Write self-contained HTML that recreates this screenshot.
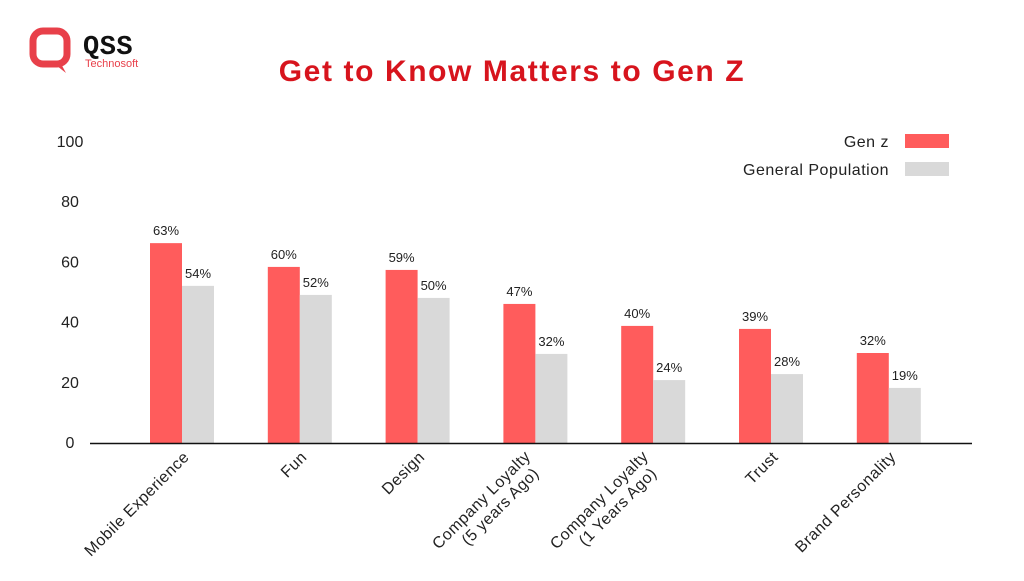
<!DOCTYPE html>
<html><head><meta charset="utf-8"><style>
body{margin:0;width:1024px;height:576px;background:#fff;overflow:hidden;font-family:"Liberation Sans",sans-serif}
</style></head><body>
<svg width="1024" height="576" viewBox="0 0 1024 576">
<g>
<rect x="33" y="31" width="34" height="33" rx="10" fill="none" stroke="#e8404a" stroke-width="7"/>
<path d="M52 62 L66 73 L60 62 Z" fill="#e8404a"/>
<text x="83" y="54" font-size="27" font-weight="bold" font-family="Liberation Mono, monospace" fill="#111" letter-spacing="0.5">QSS</text>
<text x="85" y="67" font-size="11" fill="#e8404a">Technosoft</text>
</g>
<text x="512" y="81" text-anchor="middle" font-size="30" font-weight="bold" fill="#d7141d" letter-spacing="1.6">Get to Know Matters to Gen Z</text>
<g>
<text x="889" y="147" text-anchor="end" font-size="16" fill="#222" letter-spacing="0.5">Gen z</text>
<rect x="905" y="134" width="44" height="14" fill="#ff5c5c"/>
<text x="889" y="175" text-anchor="end" font-size="16" fill="#222" letter-spacing="0.5">General Population</text>
<rect x="905" y="162" width="44" height="14" fill="#d9d9d9"/>
</g>
<g id="plot"></g>
<line x1="90" y1="443.5" x2="972" y2="443.5" stroke="#111" stroke-width="1.5"/>
</svg>
<script>
const categories=["Mobile Experience","Fun","Design","Company Loyalty\n(5 years Ago)","Company Loyalty\n(1 Years Ago)","Trust","Brand Personality"];
const genZ=[66.4,58.5,57.5,46.2,38.9,37.9,29.9];
const general=[52.2,49.2,48.2,29.6,20.9,22.9,18.3];
const genZLabels=["63%","60%","59%","47%","40%","39%","32%"];
const generalLabels=["54%","52%","50%","32%","24%","28%","19%"];
const ticks=[0,20,40,60,80,100];
const NS="http://www.w3.org/2000/svg";
const g=document.getElementById('plot');
const y=v=>443-v*3.01;
const xc=i=>182+i*117.8;
function mk(t,a){const e=document.createElementNS(NS,t);for(const k in a)e.setAttribute(k,a[k]);g.appendChild(e);return e;}
ticks.forEach(t=>{
 const e=mk('text',{x:70,y:y(t)+5,'text-anchor':'middle','font-size':16,fill:'#222'});
 e.textContent=t;
 
 
});
categories.forEach((c,i)=>{
 const cx=xc(i);
 const r=mk('rect',{x:cx-32,y:y(genZ[i]),width:32,height:443-y(genZ[i]),fill:'#ff5c5c'});
 
 
 const r2=mk('rect',{x:cx,y:y(general[i]),width:32,height:443-y(general[i]),fill:'#d9d9d9'});
 
 
 const l=mk('text',{x:cx-16,y:y(genZ[i])-8,'text-anchor':'middle','font-size':13,fill:'#222'});
 l.textContent=genZLabels[i];
 
 
 const l2=mk('text',{x:cx+16,y:y(general[i])-8,'text-anchor':'middle','font-size':13,fill:'#222'});
 l2.textContent=generalLabels[i];
 
 
 const lines=c.split('\n');
 const t=mk('text',{transform:`translate(${cx+8},458) rotate(-45)`,'text-anchor':'end','font-size':16,fill:'#222','letter-spacing':0.5});
 
 
 lines.forEach((s,j)=>{const sp=document.createElementNS(NS,'tspan');sp.setAttribute('x',lines.length>1?(j==0?-8:-14):0);sp.setAttribute('dy',j==0?(lines.length>1?-9:0):18);sp.setAttribute('text-anchor','end');sp.textContent=s;t.appendChild(sp);});
});
</script>
</body></html>
